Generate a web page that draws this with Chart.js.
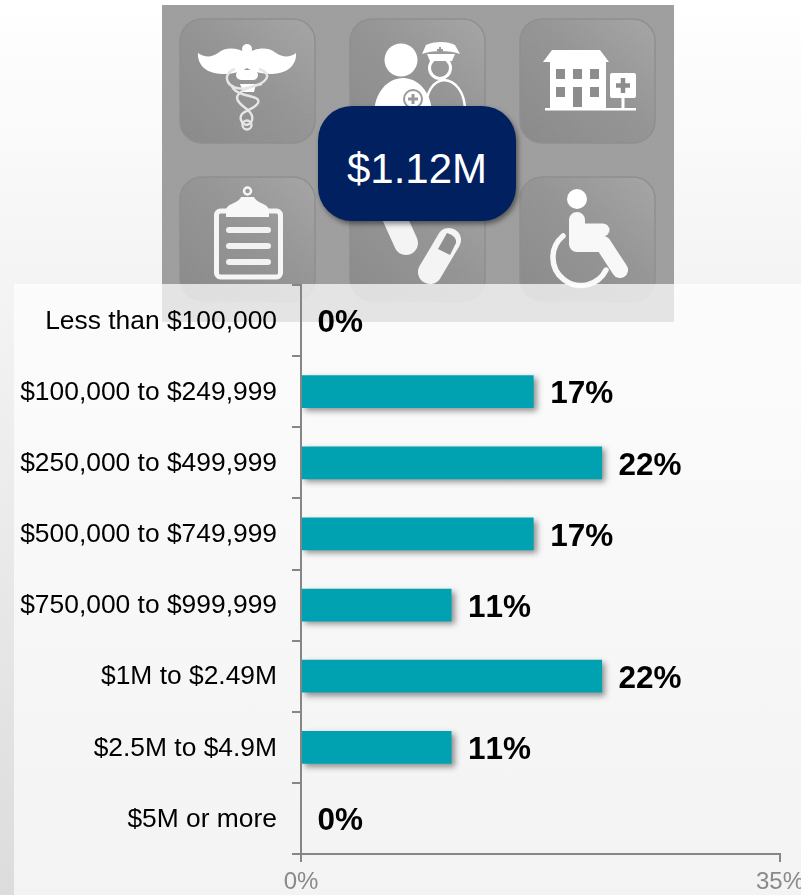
<!DOCTYPE html>
<html><head><meta charset="utf-8">
<style>
html,body{margin:0;padding:0;width:801px;height:895px;overflow:hidden}
body{position:relative;background:linear-gradient(#ffffff,#dcdcdc);font-family:"Liberation Sans",Arial,sans-serif}
#art{position:absolute;left:162px;top:5px}
#panel{position:absolute;left:14px;top:284px;width:787px;height:611px;background:linear-gradient(rgba(255,255,255,.72),rgba(252,252,252,.72))}
#callout{position:absolute;left:318px;top:106px;width:198px;height:115px;border-radius:34px;background:#002060;box-shadow:2px 3px 5px rgba(0,0,0,.45);color:#fff;font-size:42px;line-height:125px;text-align:center;font-kerning:none}
#c{position:absolute;left:0;top:0}
</style></head><body>
<svg id="art" width="512" height="317" viewBox="162 5 512 317" xmlns="http://www.w3.org/2000/svg">
<defs>
<linearGradient id="tile" x1="0" y1="1" x2="1" y2="0"><stop offset="0" stop-color="#868686"/><stop offset=".55" stop-color="#929292"/><stop offset="1" stop-color="#a4a4a4"/></linearGradient>
<filter id="grain" x="0" y="0" width="100%" height="100%"><feTurbulence type="fractalNoise" baseFrequency=".9" numOctaves="2" seed="4"/><feColorMatrix values="0 0 0 0 .5 0 0 0 0 .5 0 0 0 0 .5 0 0 0 .35 0"/></filter>
</defs>
<rect x="162" y="5" width="512" height="317" fill="#9c9c9c"/>
<g fill="url(#tile)" stroke="#8b8b8b" stroke-width="1.5">
<rect x="180" y="19" width="135" height="124" rx="22"/><rect x="350" y="19" width="135" height="124" rx="22"/><rect x="520" y="19" width="135" height="124" rx="22"/>
<rect x="180" y="177" width="135" height="124" rx="22"/><rect x="350" y="177" width="135" height="124" rx="22"/><rect x="520" y="177" width="135" height="124" rx="22"/>
</g>
<rect x="162" y="5" width="512" height="317" filter="url(#grain)" opacity=".5"/>
<!-- caduceus -->
<g fill="#fff">
<circle cx="247" cy="49" r="5"/>
<path d="M247 53C238 48 226 46 218 53C211 58 204 57 198 53C197 66 208 74 222 74C232 74 241 72 247 68C253 72 262 74 272 74C286 74 297 66 296 53C291 57 283 58 276 53C268 46 256 48 247 53Z"/>
<rect x="236" y="70" width="22" height="10" rx="5"/>
<path d="M240 84H256L254 92H243Z"/>
</g>
<g fill="none" stroke="#e6e6e6" stroke-width="2.4">
<path d="M235 69C220 74 227 92 247 88C267 84 274 74 259 69"/>
<path d="M232 86C236 98 262 94 258 103C254 111 238 110 241 120C244 129 254 124 252 116C250 108 238 106 237 98C237 92 250 86 262 84"/>
<circle cx="247" cy="125" r="4.500"/>
</g>
<!-- people -->
<g fill="#fff">
<circle cx="401" cy="60" r="16.500"/>
<path d="M374 115C374 92 388 78 403 78C418 78 432 92 432 115Z"/>
<path d="M422 54L426 45C434 41 448 41 455 45L460 54C450 50 432 50 422 54Z"/>
<path d="M427 54H455L452 61H430Z"/>
</g>
<circle cx="440" cy="68" r="10.500" fill="none" stroke="#fff" stroke-width="3"/>
<path d="M426 108C426 92 433 81 444 80C456 81 464 92 465 108" fill="none" stroke="#fff" stroke-width="2.500"/>
<circle cx="413" cy="99" r="9" fill="none" stroke="#9a9a9a" stroke-width="2"/>
<path d="M413 94V104M408 99H418" stroke="#9a9a9a" stroke-width="3"/>
<path d="M440 47V53M437 50H443" stroke="#9a9a9a" stroke-width="2"/>
<!-- hospital -->
<path fill="#fff" d="M543 62L552 50H600L609 62H606V108H550V62Z"/>
<g fill="#8d8d8d">
<rect x="556" y="69" width="9" height="10"/><rect x="573" y="69" width="9" height="10"/><rect x="590" y="69" width="9" height="10"/>
<rect x="556" y="87" width="9" height="10"/><rect x="590" y="87" width="9" height="10"/><rect x="573" y="87" width="9" height="20"/>
</g>
<rect x="610" y="73" width="26" height="25" rx="2" fill="#fff"/>
<path d="M623 78V93M616 85.500H630" stroke="#8d8d8d" stroke-width="4.500"/>
<rect x="621.500" y="97" width="3" height="13" fill="#fff"/>
<rect x="545" y="108" width="91" height="2.500" fill="#fff"/>
<!-- clipboard -->
<g fill="none" stroke="#f6f6f6">
<rect x="216.500" y="211" width="64" height="66" rx="4" stroke-width="5"/>
<circle cx="247.500" cy="191" r="3.500" stroke-width="2.500"/>
</g>
<path fill="#f8f8f8" d="M226 211C226 203 238 204 241 197H254C257 204 269 203 269 211V217H226Z"/>
<g stroke="#f2f2f2" stroke-width="6" stroke-linecap="round">
<path d="M229 230H268M229 246H268M229 262H268"/>
</g>
<!-- pills -->
<path d="M392 212L406 243" stroke="#f4f4f4" stroke-width="24" stroke-linecap="round"/>
<path d="M449 240L430 272" stroke="#f4f4f4" stroke-width="24" stroke-linecap="round"/>
<path d="M447 233L438 249L450 255L456 243Q457 236 447 233Z" fill="#8f8f8f"/>
<!-- wheelchair -->
<g fill="#fff"><circle cx="577" cy="199" r="10"/></g>
<g fill="none" stroke="#f8f8f8" stroke-linecap="round" stroke-linejoin="round">
<path d="M577 220V244H603L620 270" stroke-width="16"/>
<path d="M578 230H603" stroke-width="13"/>
<path d="M563 236A28 28 0 1 0 606 270" stroke-width="5.500"/>
</g>
</svg>
<div id="panel"></div>
<div id="callout">$1.12M</div>
<canvas id="c" width="900" height="895"></canvas>
<script src="https://cdn.jsdelivr.net/npm/chart.js@4"></script>
<script>
const categories = ["Less than $100,000","$100,000 to $249,999","$250,000 to $499,999","$500,000 to $749,999","$750,000 to $999,999","$1M to $2.49M","$2.5M to $4.9M","$5M or more"];
const shares = [0,17,22,17,11,22,11,0];
const axisMax = 35;

const barEffects = {
  id:'barEffects',
  beforeDraw(chart){ chart.ctx.fontKerning='none'; },
  beforeDatasetDraw(chart){
    const c = chart.ctx; c.save();
    c.shadowColor='rgba(0,0,0,.42)'; c.shadowBlur=6; c.shadowOffsetX=3; c.shadowOffsetY=3;
  },
  afterDatasetDraw(chart){ chart.ctx.restore(); },
  afterDatasetsDraw(chart){
    const c = chart.ctx, meta = chart.getDatasetMeta(0);
    c.save();
    c.fontKerning='none';
    c.font='bold 31.5px "Liberation Sans"';
    c.fillStyle='#000'; c.textAlign='left'; c.textBaseline='middle';
    meta.data.forEach((b,i)=>c.fillText(shares[i]+'%', b.x+16.5, b.y+3));
    c.restore();
  }
};

new Chart(document.getElementById('c'),{
  type:'bar',
  data:{labels:categories,datasets:[{data:shares,backgroundColor:'#00a2b1',borderWidth:0,barPercentage:.92,categoryPercentage:.5}]},
  plugins:[barEffects],
  options:{
    indexAxis:'y',responsive:false,animation:false,
    layout:{padding:{top:285,right:120,left:0,bottom:0}},
    plugins:{legend:{display:false},tooltip:{enabled:false}},
    scales:{
      x:{min:0,max:axisMax,
        afterFit(s){s.height=41},
        afterBuildTicks(s){s.ticks=[{value:0},{value:axisMax}]},
        grid:{drawOnChartArea:false,drawTicks:true,tickLength:8,color:'#868686',lineWidth:2},
        border:{color:'#868686',width:2,z:1},
        ticks:{padding:6,maxRotation:0,color:'#898989',font:{family:'"Liberation Sans"',size:24},callback:v=>v+'%'}
      },
      y:{
        afterFit(s){s.width=301},
        grid:{offset:true,drawOnChartArea:false,tickLength:9,color:'#868686',lineWidth:2},
        border:{color:'#868686',width:2,z:1},
        ticks:{padding:15,labelOffset:1,color:'#000',autoSkip:false,font:{family:'"Liberation Sans"',size:26.4}}
      }
    }
  }
});
</script>
</body></html>
